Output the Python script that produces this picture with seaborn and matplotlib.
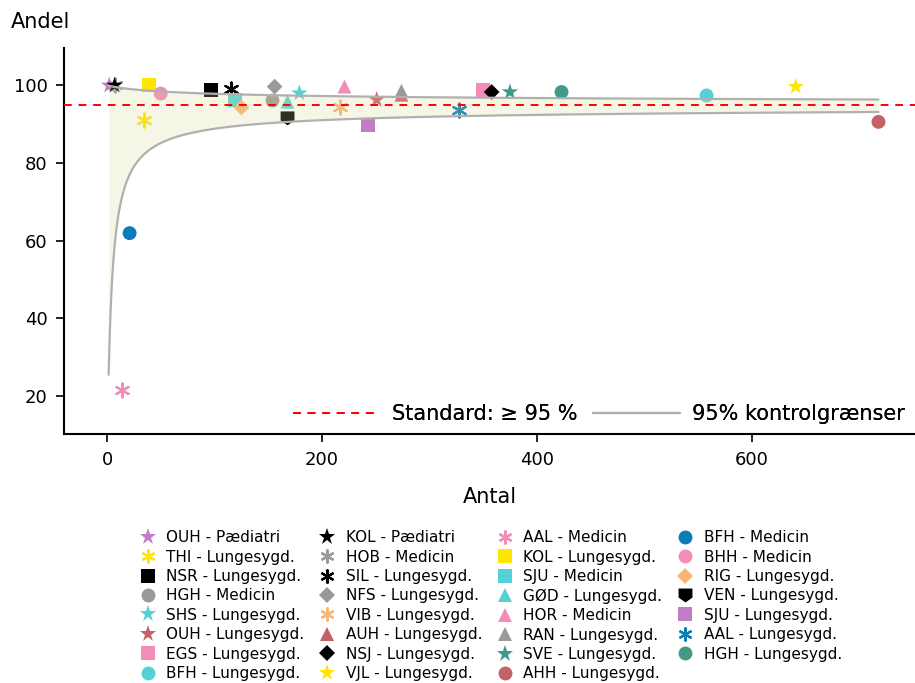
import numpy as np
import pandas as pd
import seaborn as sns
import matplotlib
matplotlib.use("Agg")
import matplotlib.pyplot as plt
from matplotlib.path import Path
from matplotlib.lines import Line2D

# ---------------- data ----------------
names = ["OUH - Pædiatri", "THI - Lungesygd.", "NSR - Lungesygd.", "HGH - Medicin",
         "SHS - Lungesygd.", "OUH - Lungesygd.", "EGS - Lungesygd.", "BFH - Lungesygd.",
         "KOL - Pædiatri", "HOB - Medicin", "SIL - Lungesygd.", "NFS - Lungesygd.",
         "VIB - Lungesygd.", "AUH - Lungesygd.", "NSJ - Lungesygd.", "VJL - Lungesygd.",
         "AAL - Medicin", "KOL - Lungesygd.", "SJU - Medicin", "GØD - Lungesygd.",
         "HOR - Medicin", "RAN - Lungesygd.", "SVE - Lungesygd.", "AHH - Lungesygd.",
         "BFH - Medicin", "BHH - Medicin", "RIG - Lungesygd.", "VEN - Lungesygd.",
         "SJU - Lungesygd.", "AAL - Lungesygd.", "HGH - Lungesygd."]
antal = [2, 34, 97, 154,
         179, 251, 350, 558,
         7, 7, 115, 156,
         217, 274, 358, 641,
         14, 39, 119, 168,
         221, 274, 375, 718,
         21, 50, 125, 168,
         243, 328, 423]
andel = [100.0, 91.0, 98.9, 96.1,
         98.0, 96.3, 98.9, 97.4,
         100.0, 100.0, 99.1, 99.7,
         94.4, 97.6, 98.3, 99.7,
         21.4, 100.0, 96.3, 95.8,
         99.7, 98.6, 98.3, 90.6,
         61.9, 97.9, 94.3, 91.5,
         89.7, 93.6, 98.3]
standard = 95.0
n_min, n_max = 1.5, 718

# ---------------- styles ----------------
PURPLE, YELLOW, BLACK, GRAY = "#C27BC5", "#FFE600", "#000000", "#999999"
CYAN, RED, PINK, BLUE = "#55D1D6", "#C56069", "#F48CB8", "#0B7CBA"
GREEN, ORANGE = "#3F9A89", "#F9B574"
ASTER = (6, 2, 0)
PENT = Path([(-1, 1), (1, 1), (1, -0.3), (0, -1), (-1, -0.3), (-1, 1)],
            [Path.MOVETO, Path.LINETO, Path.LINETO, Path.LINETO, Path.LINETO, Path.CLOSEPOLY])
styles = [(PURPLE, "*"), (YELLOW, ASTER), (BLACK, "s"), (GRAY, "o"),
          (CYAN, "*"), (RED, "*"), (PINK, "s"), (CYAN, "o"),
          (BLACK, "*"), (GRAY, ASTER), (BLACK, ASTER), (GRAY, "D"),
          (ORANGE, ASTER), (RED, "^"), (BLACK, "D"), (YELLOW, "*"),
          (PINK, ASTER), (YELLOW, "s"), (CYAN, "s"), (CYAN, "^"),
          (PINK, "^"), (GRAY, "^"), (GREEN, "*"), (RED, "o"),
          (BLUE, "o"), (PINK, "o"), (ORANGE, "D"), (BLACK, PENT),
          (PURPLE, "s"), (BLUE, ASTER), (GREEN, "o")]


def msize(m):
    if m == "*":
        return 12.5
    if m == "D":
        return 8.0
    return 10.0


sns.set_theme(style="ticks")
plt.rcParams["font.family"] = ["DejaVu Sans"]
plt.rcParams.update({"text.color": "black", "axes.labelcolor": "black",
                     "xtick.color": "black", "ytick.color": "black"})

fig = plt.figure(figsize=(9.15, 6.83), dpi=100)
ax = fig.add_axes([0.070, 0.364, 0.930, 0.566])

legend_handles = []
for name, n, v, (c, m) in zip(names, antal, andel, styles):
    ms = msize(m)
    zo = 2.9 if name == "HOB - Medicin" else 3
    if m == ASTER:
        sns.scatterplot(x=[n], y=[v], ax=ax, marker=m, color=c, s=ms ** 2,
                        linewidth=1.6, zorder=zo, legend=False)
        h = Line2D([], [], linestyle="none", marker=m, color=c, markersize=ms,
                   markeredgewidth=1.6)
    else:
        sns.scatterplot(x=[n], y=[v], ax=ax, marker=m, color=c, s=ms ** 2,
                        linewidth=0, edgecolor="none", zorder=zo, legend=False)
        h = Line2D([], [], linestyle="none", marker=m, color=c, markersize=ms,
                   markeredgewidth=0)
    legend_handles.append(h)

# control limits (Wilson score interval around the standard)
nn = np.concatenate([np.linspace(n_min, 20, 200), np.linspace(20, n_max, 400)[1:]])
p0 = standard / 100
z = 1.96
den = 1 + z ** 2 / nn
cen = (p0 + z ** 2 / (2 * nn)) / den
half = z / den * np.sqrt(p0 * (1 - p0) / nn + z ** 2 / (4 * nn ** 2))
lower = (cen - half) * 100
upper = (cen + half) * 100
lim = pd.DataFrame({"n": nn, "lower": lower, "upper": upper})

ax.fill_between(lim["n"], lim["lower"], lim["upper"], color="#D8D890", alpha=0.22,
                linewidth=0, zorder=4)
sns.lineplot(data=lim, x="n", y="upper", ax=ax, color="#B0B0B0", linewidth=1.6,
             zorder=5, legend=False)
sns.lineplot(data=lim, x="n", y="lower", ax=ax, color="#B0B0B0", linewidth=1.6,
             zorder=5, legend=False)
ax.axhline(standard, color="#FF0000", linewidth=1.4, dashes=(4, 3.5), zorder=6)

ax.set_xlim(-40, 752)
ax.set_ylim(10, 109.7)
ax.set_xticks([0, 200, 400, 600])
ax.set_yticks([20, 40, 60, 80, 100])
ax.tick_params(labelsize=13, length=6, width=1.2, colors="black", pad=6)
for s in ["left", "bottom"]:
    ax.spines[s].set_linewidth(1.5)
    ax.spines[s].set_color("black")
sns.despine(ax=ax)
ax.set_xlabel("Antal", fontsize=15, labelpad=13)
ax.set_ylabel("")
fig.text(0.012, 0.953, "Andel", fontsize=15, ha="left", va="bottom")

line_handles = [Line2D([], [], color="#FF0000", linewidth=1.4, dashes=(4, 3.5)),
                Line2D([], [], color="#B0B0B0", linewidth=1.6)]
leg1 = ax.legend(line_handles, ["Standard: \u2265 95 %", "95% kontrolgrænser"],
                 loc="lower right", ncol=2, frameon=False, fontsize=15,
                 handlelength=4.2, handletextpad=0.55, columnspacing=0.75,
                 borderaxespad=0.1, bbox_to_anchor=(1.0, 0.0))
ax.add_artist(leg1)

fig.legend(legend_handles, names, loc="upper left", ncol=4, frameon=False,
           fontsize=11, bbox_to_anchor=(0.1365, 0.244), handletextpad=0.6,
           columnspacing=0.9, labelspacing=0.29, handlelength=1.2)

fig.savefig("out.png", dpi=100)
